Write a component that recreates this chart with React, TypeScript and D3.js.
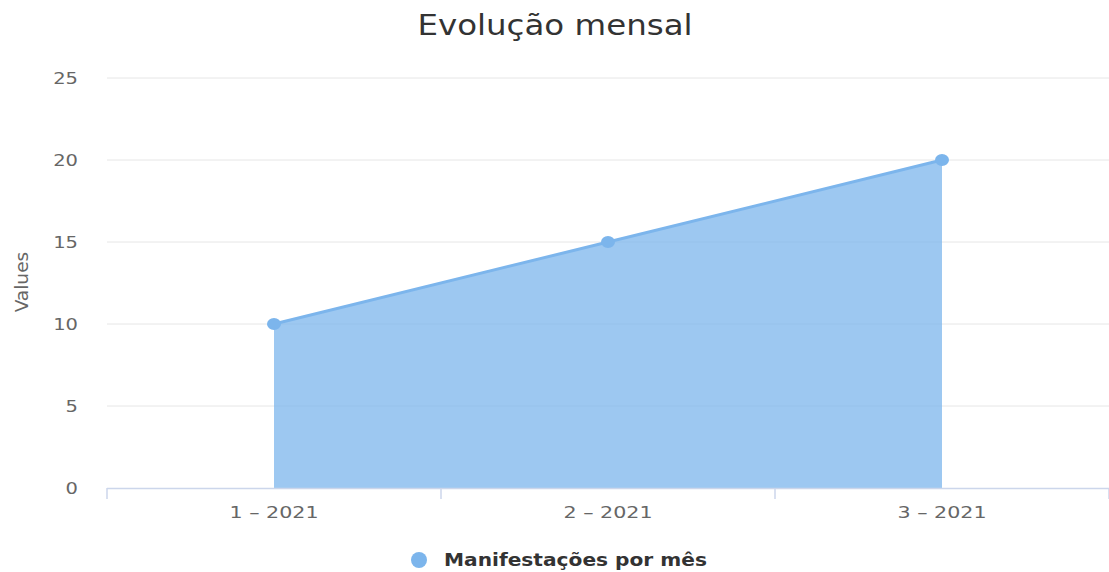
import React from "react";
import * as d3 from "d3";

const categories = ["1 – 2021", "2 – 2021", "3 – 2021"];
const values = [10, 15, 20];
const yTicks = [0, 5, 10, 15, 20, 25];
const seriesName = "Manifestações por mês";
const title = "Evolução mensal";
const yTitle = "Values";

const W = 1109;
const H = 572;
const left = 107;
const right = 1109;
const top = 78;
const bottom = 488;
const color = "#7cb5ec";
const font = "'DejaVu Sans', Verdana, sans-serif";

function SText(props: {
  x: number;
  y: number;
  sx: number;
  anchor?: string;
  size: number;
  weight?: string;
  fill: string;
  family?: string;
  children: React.ReactNode;
}) {
  return (
    <text
      transform={`translate(${props.x},${props.y}) scale(${props.sx},1)`}
      textAnchor={props.anchor || "start"}
      fontFamily={props.family || font}
      fontSize={props.size}
      fontWeight={props.weight || "normal"}
      fill={props.fill}
    >
      {props.children}
    </text>
  );
}

export default function App() {
  const x = d3.scaleBand<string>().domain(categories).range([left, right]);
  const y = d3.scaleLinear().domain([0, 25]).range([bottom, top]);
  const cx = (c: string) => (x(c) as number) + x.bandwidth() / 2;
  const data = categories.map((c, i) => ({ c, v: values[i] }));
  const area = d3
    .area<{ c: string; v: number }>()
    .x((d) => cx(d.c))
    .y0(y(0))
    .y1((d) => y(d.v));
  const line = d3
    .line<{ c: string; v: number }>()
    .x((d) => cx(d.c))
    .y((d) => y(d.v));
  const tickXs = [...categories.map((c) => x(c) as number), right];

  return (
    <svg
      width={W}
      height={H}
      style={{ position: "absolute", left: 0, top: 0, background: "#fff" }}
    >
      <SText x={555} y={35} sx={1.16} anchor="middle" size={28} fill="#333333">
        {title}
      </SText>
      {yTicks.map((t) => (
        <g key={t}>
          {t !== 0 && (
            <line x1={left} x2={right} y1={y(t)} y2={y(t)} stroke="#e6e6e6" strokeWidth={1} />
          )}
          <SText x={78} y={y(t) + 6} sx={1.3} anchor="end" size={15} fill="#666666">
            {t}
          </SText>
        </g>
      ))}
      <text
        transform={`translate(28,${(top + bottom) / 2 - 1}) rotate(-90) scale(1.15,1)`}
        textAnchor="middle"
        fontFamily="'Liberation Sans Narrow', 'DejaVu Sans Condensed', sans-serif"
        fontSize={18}
        fill="#666666"
      >
        {yTitle}
      </text>
      <path d={area(data) as string} fill={color} fillOpacity={0.75} />
      <path d={line(data) as string} fill="none" stroke={color} strokeWidth={3} />
      {data.map((d) => (
        <ellipse key={d.c} cx={cx(d.c)} cy={y(d.v)} rx={7} ry={6} fill={color} />
      ))}
      <line x1={left} x2={right} y1={bottom + 0.5} y2={bottom + 0.5} stroke="#ccd6eb" strokeWidth={1.5} />
      {tickXs.map((tx, i) => (
        <line key={i} x1={tx} x2={tx} y1={bottom} y2={bottom + 11} stroke="#ccd6eb" strokeWidth={1.5} />
      ))}
      {categories.map((c) => (
        <SText key={c} x={cx(c)} y={518} sx={1.29} anchor="middle" size={16} fill="#666666">
          {c}
        </SText>
      ))}
      <circle cx={419} cy={560} r={8} fill={color} />
      <SText x={444} y={566} sx={1.12} size={18} weight="bold" fill="#333333">
        {seriesName}
      </SText>
    </svg>
  );
}
